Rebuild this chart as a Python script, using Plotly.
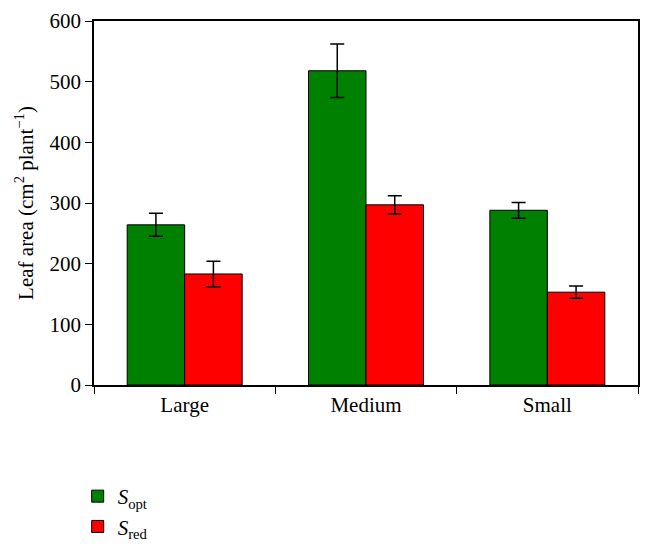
import plotly.graph_objects as go

categories = ["Large", "Medium", "Small"]
s_opt = [264, 518, 288]
s_opt_err = [19, 44, 13]
s_red = [183, 297, 153]
s_red_err = [21, 15, 10]

font_family = "Liberation Serif, Times New Roman, serif"

fig = go.Figure()
fig.add_trace(go.Bar(
    x=categories, y=s_opt, name="<i>S</i><sub>opt</sub>",
    marker=dict(color="#008000", line=dict(color="#000000", width=1)),
    error_y=dict(type="data", array=s_opt_err, color="#000000", thickness=1.5, width=7),
))
fig.add_trace(go.Bar(
    x=categories, y=s_red, name="<i>S</i><sub>red</sub>",
    marker=dict(color="#FF0000", line=dict(color="#000000", width=1)),
    error_y=dict(type="data", array=s_red_err, color="#000000", thickness=1.5, width=7),
))

fig.update_layout(
    width=645, height=542,
    margin=dict(l=86, r=15, t=13, b=165, autoexpand=False),
    barmode="group", bargap=0.366, bargroupgap=0,
    plot_bgcolor="white", paper_bgcolor="white",
    font=dict(family=font_family, size=21, color="#000000"),
    showlegend=True,
    legend=dict(x=-0.03, y=-0.25, xanchor="left", yanchor="top",
                orientation="v", font=dict(size=21), tracegroupgap=0,
                bgcolor="rgba(0,0,0,0)"),
)
fig.update_xaxes(
    type="category", tickson="boundaries", ticks="outside", ticklen=7,
    tickcolor="#000000", linecolor="#000000", linewidth=1.5, mirror=True,
    showgrid=False, tickfont=dict(size=21),
)
fig.update_yaxes(
    range=[0, 600], dtick=100, ticks="outside", ticklen=7,
    tickcolor="#000000", linecolor="#000000", linewidth=1.5, mirror=True,
    showgrid=False, zeroline=False, tickfont=dict(size=21),
    title=dict(text="Leaf area (cm<sup>2</sup> plant<sup>−1</sup>)", font=dict(size=21), standoff=10),
)

fig.write_html("out.html")
